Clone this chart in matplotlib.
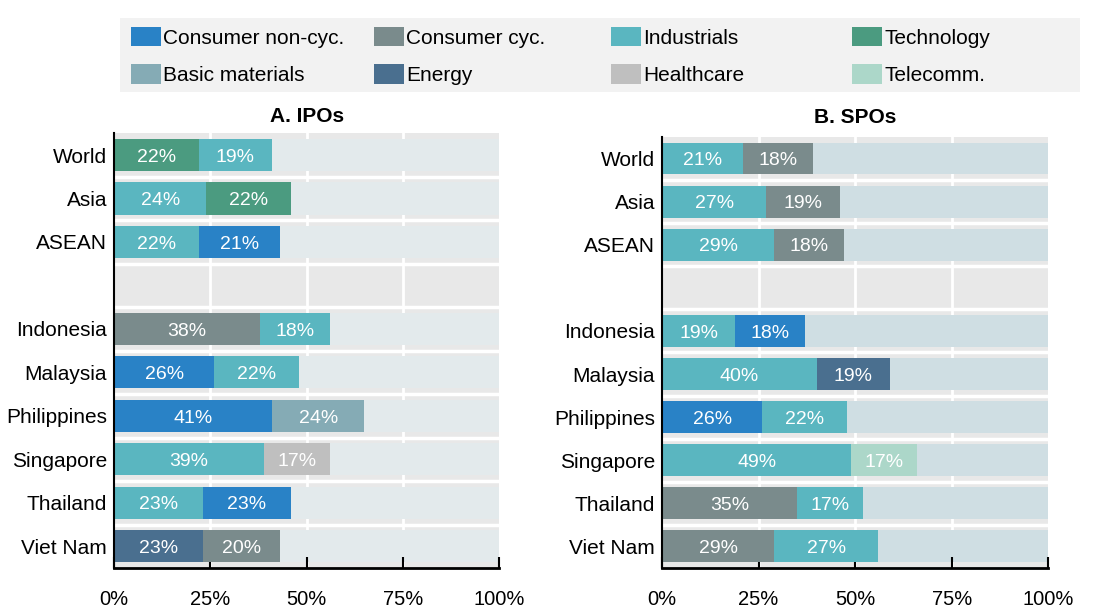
import matplotlib
matplotlib.use('Agg')
import matplotlib.pyplot as plt
from matplotlib.patches import Patch, Rectangle
import numpy as np

plt.rcParams['font.family'] = ['Liberation Sans Narrow', 'Liberation Sans', 'DejaVu Sans']

# data ------------------------------------------------------------------------
countries = ['World', 'Asia', 'ASEAN', 'Indonesia', 'Malaysia', 'Philippines',
             'Singapore', 'Thailand', 'Viet Nam']

ipo_first_sector = ['Technology', 'Industrials', 'Industrials', 'Consumer cyc.',
                    'Consumer non-cyc.', 'Consumer non-cyc.', 'Industrials',
                    'Industrials', 'Energy']
ipo_first = [22, 24, 22, 38, 26, 41, 39, 23, 23]
ipo_second_sector = ['Industrials', 'Technology', 'Consumer non-cyc.', 'Industrials',
                     'Industrials', 'Basic materials', 'Healthcare',
                     'Consumer non-cyc.', 'Consumer cyc.']
ipo_second = [19, 22, 21, 18, 22, 24, 17, 23, 20]

spo_first_sector = ['Industrials', 'Industrials', 'Industrials', 'Industrials',
                    'Industrials', 'Consumer non-cyc.', 'Industrials',
                    'Consumer cyc.', 'Consumer cyc.']
spo_first = [21, 27, 29, 19, 40, 26, 49, 35, 29]
spo_second_sector = ['Consumer cyc.', 'Consumer cyc.', 'Consumer cyc.',
                     'Consumer non-cyc.', 'Energy', 'Industrials', 'Telecomm.',
                     'Industrials', 'Industrials']
spo_second = [18, 19, 18, 18, 19, 22, 17, 17, 27]

# legend columns, top row then bottom row
legend_cols = [['Consumer non-cyc.', 'Basic materials'],
               ['Consumer cyc.', 'Energy'],
               ['Industrials', 'Healthcare'],
               ['Technology', 'Telecomm.']]
colors = {'Consumer non-cyc.': '#2982c6', 'Consumer cyc.': '#7a8b8c',
          'Industrials': '#5ab6c0', 'Technology': '#4b9b80',
          'Basic materials': '#85abb5', 'Energy': '#4a6f8f',
          'Healthcare': '#bfbfbf', 'Telecomm.': '#acd7c9'}

ticks = [0, 25, 50, 75, 100]

# figure ----------------------------------------------------------------------
fig = plt.figure(figsize=(11.07, 6.08), dpi=100)
ax1 = fig.add_axes([0.103, 0.0658, 0.348, 0.715])
ax2 = fig.add_axes([0.598, 0.0658, 0.349, 0.709])

# positions with a blank row after ASEAN
pos = np.array([i + (1 if i >= 3 else 0) for i in range(len(countries))])


def draw_panel(ax, title, first_sec, first, second_sec, second, rest_color, title_pad):
    ax.set_facecolor('#e8e8e8')
    ax.barh(pos, [100] * len(pos), height=0.74, color=rest_color, zorder=1)
    for y, s1, v1, s2, v2 in zip(pos, first_sec, first, second_sec, second):
        ax.barh(y, v1, height=0.74, color=colors[s1], zorder=2)
        ax.barh(y, v2, left=v1, height=0.74, color=colors[s2], zorder=2)
        ax.text(v1 / 2, y + 0.05, f'{v1}%', ha='center', va='center', color='white',
                fontsize=14, zorder=3)
        ax.text(v1 + v2 / 2, y + 0.05, f'{v2}%', ha='center', va='center',
                color='white', fontsize=14, zorder=3)

    # white grid
    for x in [25, 50, 75]:
        ax.axvline(x, color='white', linewidth=2, zorder=0.5)
    for k in range(9):
        ax.axhline(k + 0.5, color='white', linewidth=2.5, zorder=1.5)

    ax.set_xlim(0, 100)
    ax.set_ylim(9.5, -0.5)
    ax.set_yticks(pos)
    ax.set_yticklabels(countries, fontsize=15)
    ax.set_xticks(ticks)
    ax.set_xticklabels([f'{t}%' for t in ticks], fontsize=14.5)
    ax.tick_params(axis='y', length=0, pad=5)
    ax.tick_params(axis='x', direction='in', length=8, width=1.5, pad=16)
    for side in ['top', 'right']:
        ax.spines[side].set_visible(False)
    ax.spines['left'].set_linewidth(1.5)
    ax.spines['bottom'].set_linewidth(2)
    ax.spines['left'].set_zorder(4)
    ax.spines['bottom'].set_zorder(4)
    ax.set_title(title, fontsize=15, fontweight='bold', pad=title_pad)


draw_panel(ax1, 'A. IPOs', ipo_first_sector, ipo_first, ipo_second_sector,
           ipo_second, '#e3eaec', 8)
draw_panel(ax2, 'B. SPOs', spo_first_sector, spo_first, spo_second_sector,
           spo_second, '#cfdee3', 10)

# legend: grey box with four fixed-width columns
fig.patches.append(Rectangle((120 / 1107, 1 - 92 / 608), 960 / 1107, 74 / 608,
                             transform=fig.transFigure, facecolor='#f2f2f2',
                             edgecolor='none', zorder=0))
for col_x, names in zip([131, 374, 611, 852], legend_cols):
    handles = [Patch(facecolor=colors[n], label=n) for n in names]
    fig.legend(handles=handles, loc='upper left',
               bbox_to_anchor=(col_x / 1107, 1 - 27 / 608), frameon=False,
               fontsize=15, handlelength=1.45, handleheight=1.05,
               handletextpad=0.1, borderaxespad=0, borderpad=0,
               labelspacing=0.8)

plt.savefig('out.png', dpi=100)
